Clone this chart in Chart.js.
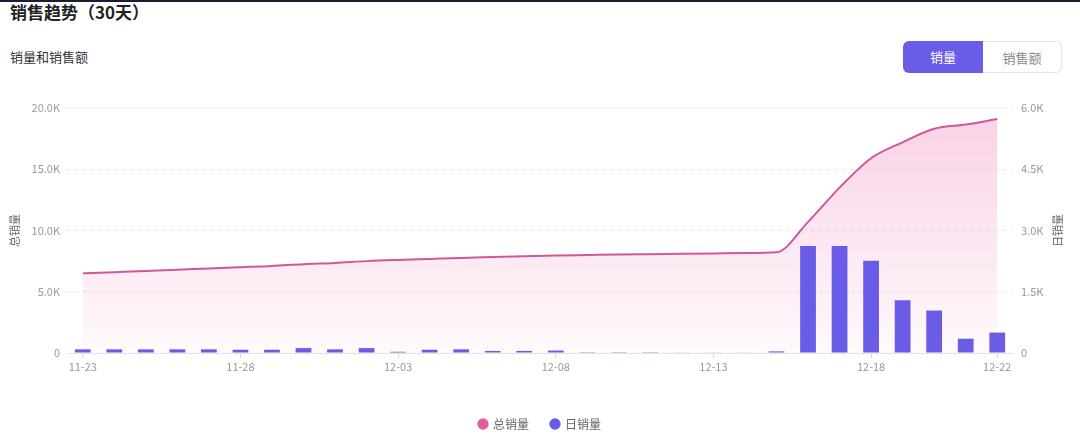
<!DOCTYPE html>
<html><head><meta charset="utf-8">
<script src="https://cdn.jsdelivr.net/npm/chart.js@4/dist/chart.umd.min.js"></script>
<style>
html,body{margin:0;padding:0;background:#fff;}
body{width:1080px;height:446px;position:relative;overflow:hidden;font-family:"Noto Sans CJK SC","Noto Sans",sans-serif;border-top:2px solid #1c1c35;box-sizing:border-box;}
.title{position:absolute;left:10px;top:-3px;font-size:17px;font-weight:700;color:#222;}
.sub{position:absolute;left:10px;top:45px;font-size:13px;color:#333;}
.tog{position:absolute;left:903px;top:39px;display:flex;}
.tog div{width:80px;height:32px;line-height:32px;text-align:center;font-size:13px;box-sizing:border-box;}
.tog .on{background:#6b5ce7;color:#fff;border-radius:6px 0 0 6px;}
.tog .off{border:1px solid #e3e3e3;border-left:none;color:#888;border-radius:0 6px 6px 0;width:79px;}
#wrap{position:absolute;left:0;top:86px;width:1080px;height:358px;}
</style></head>
<body>
<div class="title">销售趋势（30天）</div>
<div class="sub">销量和销售额</div>
<div class="tog"><div class="on">销量</div><div class="off">销售额</div></div>
<div id="wrap"><canvas id="c"></canvas></div>
<script>
const dates = ['11-23','11-24','11-25','11-26','11-27','11-28','11-29','11-30','12-01','12-02','12-03','12-04','12-05','12-06','12-07','12-08','12-09','12-10','12-11','12-12','12-13','12-14','12-15','12-16','12-17','12-18','12-19','12-20','12-21','12-22'];
const totalSales = [6500,6600,6700,6800,6900,7000,7100,7250,7350,7500,7600,7680,7760,7830,7900,7960,8000,8040,8070,8100,8130,8160,8220,10700,13500,15900,17200,18300,18650,19100];
const dailySales = [90,90,90,90,90,80,80,120,90,120,30,80,90,50,50,60,20,20,20,10,15,10,40,2620,2620,2260,1290,1040,350,500];
const shownDates = ['11-23','11-28','12-03','12-08','12-13','12-18','12-22'];
const leftTicks = ['0','5.0K','10.0K','15.0K','20.0K'];
const rightTicks = ['0','1.5K','3.0K','4.5K','6.0K'];
const seriesNames = ['总销量','日销量'];
const axisTitles = ['总销量','日销量'];

const PINK='#d0589a', PURPLE='#6b5ce7', LEG_PINK='#e25e9f';
const FONT='"Noto Sans CJK SC","Noto Sans",sans-serif';

const rightTitle = {
  id:'rightTitle',
  afterDraw(chart){
    const {ctx, chartArea} = chart;
    ctx.save();
    ctx.translate(1058, (chartArea.top+chartArea.bottom)/2);
    ctx.rotate(-Math.PI/2);
    ctx.fillStyle='#666';
    ctx.font='11px '+FONT;
    ctx.textAlign='center'; ctx.textBaseline='middle';
    ctx.fillText(axisTitles[1],0,0);
    ctx.restore();
  }
};

new Chart(document.getElementById('c'), {
  data:{
    labels:dates,
    datasets:[
      {type:'line',label:seriesNames[0],data:totalSales,yAxisID:'y',borderColor:PINK,borderWidth:2,pointRadius:0,
       cubicInterpolationMode:'monotone',fill:'origin',order:1,
       backgroundColor(ctx){
         const a=ctx.chart.chartArea; if(!a) return 'rgba(236,100,170,0.15)';
         const g=ctx.chart.ctx.createLinearGradient(0,a.top,0,a.bottom);
         g.addColorStop(0,'rgba(238,120,180,0.34)');
         g.addColorStop(1,'rgba(238,120,180,0.04)');
         return g;
       }},
      {type:'bar',label:seriesNames[1],data:dailySales,yAxisID:'y1',backgroundColor:PURPLE,
       barPercentage:0.5,categoryPercentage:1,order:0}
    ]
  },
  options:{
    responsive:true,maintainAspectRatio:false,animation:false,
    layout:{padding:{top:20,bottom:6,left:0,right:0}},
    scales:{
      x:{offset:true,
         grid:{display:true,drawOnChartArea:false,offset:false,tickLength:5,
               tickColor:(c)=>shownDates.includes(dates[c.index])?'#d9d9d9':'rgba(0,0,0,0)'},
         border:{color:'#e3e3e3'},
         ticks:{autoSkip:false,maxRotation:0,color:'#999',font:{size:11,family:FONT},padding:2,
                callback:(v,i)=>shownDates.includes(dates[i])?dates[i]:''},
         afterFit(a){a.height=43;}},
      y:{position:'left',min:0,max:20000,
         ticks:{stepSize:5000,color:'#999',font:{size:11,family:FONT},padding:7,
                callback:(v)=>leftTicks[Math.round(v/5000)]},
         grid:{color:'#e6e6e6',borderDash:[4,4],drawTicks:false},
         border:{display:false,dash:[4,4]},
         title:{display:true,text:axisTitles[0],color:'#666',font:{size:11,family:FONT},padding:{top:8,bottom:0}},
         afterFit(a){a.width=67;}},
      y1:{position:'right',min:0,max:6000,
         ticks:{stepSize:1500,color:'#999',font:{size:11,family:FONT},padding:8,
                callback:(v)=>rightTicks[Math.round(v/1500)]},
         grid:{drawOnChartArea:false,drawTicks:false},
         border:{display:false},
         afterFit(a){a.width=67;}}
    },
    plugins:{
      tooltip:{enabled:false},
      legend:{position:'bottom',
        labels:{usePointStyle:true,pointStyle:'circle',boxWidth:8,boxHeight:8,padding:22,color:'#666',font:{size:12,family:FONT},
          sort:(a,b)=>a.datasetIndex-b.datasetIndex,
          generateLabels(chart){
            const items=Chart.defaults.plugins.legend.labels.generateLabels(chart);
            items.forEach(it=>{const col=it.datasetIndex===0?LEG_PINK:PURPLE;it.fillStyle=col;it.strokeStyle=col;it.lineWidth=0;it.pointStyle='circle';});
            return items;
          }}}
    }
  },
  plugins:[rightTitle]
});
</script>
</body></html>
